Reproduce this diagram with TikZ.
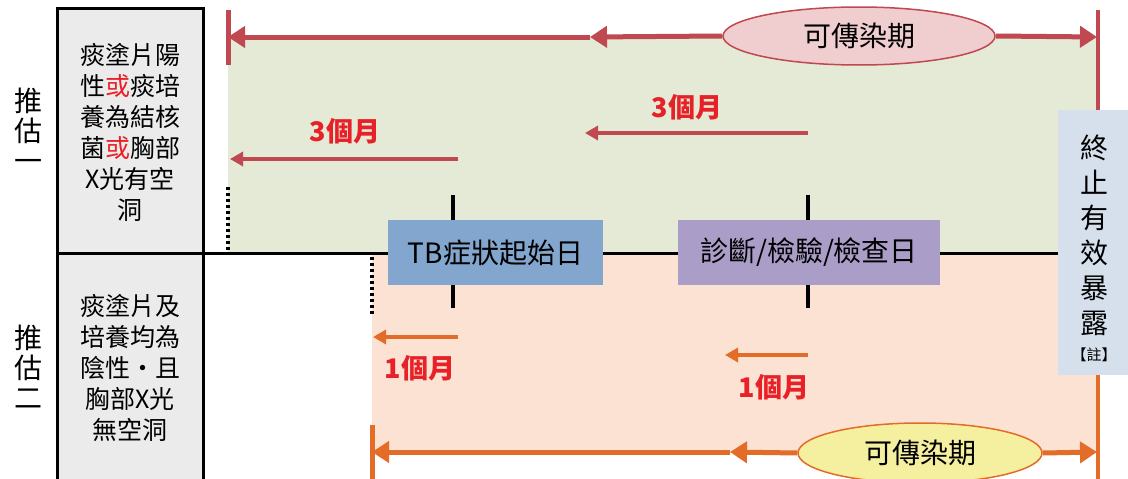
\documentclass[tikz,border=0pt]{standalone}
\usepackage{fontspec}
\usepackage{xcolor}
\usepackage{tikz}
\usetikzlibrary{arrows.meta,positioning,shapes,calc}
\newfontfamily\cjk{Noto Sans CJK TC}
\definecolor{linered}{RGB}{192,72,80}
\definecolor{textred}{RGB}{232,32,40}
\definecolor{lineorange}{RGB}{226,108,40}
\definecolor{greenbg}{RGB}{228,234,214}
\definecolor{peachbg}{RGB}{252,226,210}
\definecolor{pinkfill}{RGB}{240,206,208}
\definecolor{yellowfill}{RGB}{245,240,160}
\definecolor{tbblue}{RGB}{130,166,205}
\definecolor{diagpurple}{RGB}{170,157,200}
\definecolor{endblue}{RGB}{213,224,236}
\definecolor{boxgray}{RGB}{235,235,235}
\tikzset{
  % 全局字體
  every node/.append style={font=\cjk},
  % 左側推估標題
  esttitle/.style={align=center, font=\cjk\fontsize{28}{30}\selectfont},
  % 左側說明文字
  desc/.style={align=center, font=\cjk\fontsize{25}{31}\selectfont},
  % 時間軸上的日期框
  daybox/.style={
    minimum height=65pt,
    inner sep=0pt,
    font=\cjk\fontsize{28}{30}\selectfont
  },
  tbbox/.style={daybox, fill=tbblue, minimum width=215pt},
  diagbox/.style={daybox, fill=diagpurple, minimum width=262pt},
  % 終止有效暴露
  endbox/.style={
    fill=endblue,
    minimum width=72pt,
    minimum height=265pt,
    inner sep=0pt,
    align=center,
    font=\cjk\fontsize{28}{35}\selectfont
  },
  % 可傳染期橢圓
  period/.style={
    ellipse,
    line width=1.5pt,
    inner sep=0pt,
    font=\cjk\fontsize{28}{30}\selectfont
  },
  % 箭頭樣式
  mainred/.style={-{Triangle[length=17pt,width=21pt]}, line width=5pt, linered},
  mainorange/.style={-{Triangle[length=17pt,width=21pt]}, line width=5pt, lineorange},
  shortred/.style={-{Triangle[length=13pt,width=14pt]}, line width=4pt, linered},
  shortorange/.style={-{Triangle[length=13pt,width=14pt]}, line width=4pt, lineorange},
  monthlab/.style={text=textred, font=\cjk\bfseries\fontsize{27}{30}\selectfont},
  tick/.style={line width=3.5pt, black},
  dotline/.style={line width=3.5pt, dash pattern=on 3pt off 3pt, black},
}

\begin{document}
\begin{tikzpicture}[x=1pt, y=-1pt]
    \useasboundingbox (0,0) rectangle (1128,479);

    % 背景色塊
    \fill[greenbg] (228,37) rectangle (1098,253);
    \fill[peachbg] (372,253) rectangle (1098,453);

    % 左側框
    \draw[line width=3pt, fill=boxgray] (57,8) rectangle (203,490);
    \node[esttitle] (est1) at (28,130) {推\\估\\一};
    \node[esttitle] (est2) at (28,367) {推\\估\\二};
    \node[desc] (est1txt) at (130,132) {痰塗片陽\\性\textcolor{textred}{或}痰培\\養為結核\\菌\textcolor{textred}{或}胸部\\X光有空\\洞};
    \node[desc] (est2txt) at (130,368) {痰塗片及\\培養均為\\陰性・且\\胸部X光\\無空洞};

    % 時間軸
    \coordinate (t0) at (57,253);
    \coordinate (t1) at (1058,253);
    \draw[line width=3pt] (t0) -- (t1);
    \draw[tick] (453,195) -- (453,308);
    \draw[tick] (808,195) -- (808,308);
    \node[tbbox] (tbday) at (495.5,252.5) {TB症狀起始日};
    \node[diagbox] (diagday) at (809,252.5) {診斷/檢驗/檢查日};
    \node[endbox] (rbox) at (1094,242.5) {\rule{0pt}{36pt}終\\止\\有\\效\\暴\\露\\[-8pt]{\fontsize{15}{16}\selectfont【註】}};

    % 虛線
    \draw[dotline] (228,187) -- (228,250);
    \draw[dotline] (372,257) -- (372,316);

    % 推估一 可傳染期
    \coordinate (tl) at (228,37);
    \coordinate (tm) at (590,37);
    \coordinate (tr) at (1097,37);
    \draw[line width=5pt, linered] (228,10) -- (228,65);
    \draw[line width=4pt, linered] (1098,10) -- (1098,110);
    \node[period, draw=linered, fill=pinkfill, minimum width=272pt, minimum height=58pt] (topell) at (859,36) {可傳染期};
    \draw[mainred] (topell.west) -- (tm);
    \draw[mainred] (tm) -- (tl);
    \draw[mainred] (topell.east) -- (tr);

    % 3個月
    \coordinate (r1s) at (458,159);
    \coordinate (r1e) at (230,159);
    \draw[shortred] (r1s) -- (r1e);
    \node[monthlab] (r1lab) at (345,131) {3個月};
    \coordinate (r2s) at (808,133);
    \coordinate (r2e) at (585,133);
    \draw[shortred] (r2s) -- (r2e);
    \node[monthlab] (r2lab) at (687,107) {3個月};

    % 1個月
    \coordinate (o1s) at (458,337);
    \coordinate (o1e) at (373,337);
    \draw[shortorange] (o1s) -- (o1e);
    \node[monthlab] (o1lab) at (420,368) {1個月};
    \coordinate (o2s) at (808,355);
    \coordinate (o2e) at (725,355);
    \draw[shortorange] (o2s) -- (o2e);
    \node[monthlab] (o2lab) at (774,387) {1個月};

    % 推估二 可傳染期
    \coordinate (bl) at (372,452);
    \coordinate (bm) at (730,452);
    \coordinate (br) at (1097,452);
    \draw[line width=5pt, lineorange] (372,425) -- (372,490);
    \draw[line width=4pt, lineorange] (1098,375) -- (1098,490);
    \node[period, draw=lineorange, fill=yellowfill, minimum width=244pt, minimum height=60pt] (botell) at (920,453) {可傳染期};
    \draw[mainorange] (botell.west) -- (bm);
    \draw[mainorange] (bm) -- (bl);
    \draw[mainorange] (botell.east) -- (br);
\end{tikzpicture}
\end{document}
